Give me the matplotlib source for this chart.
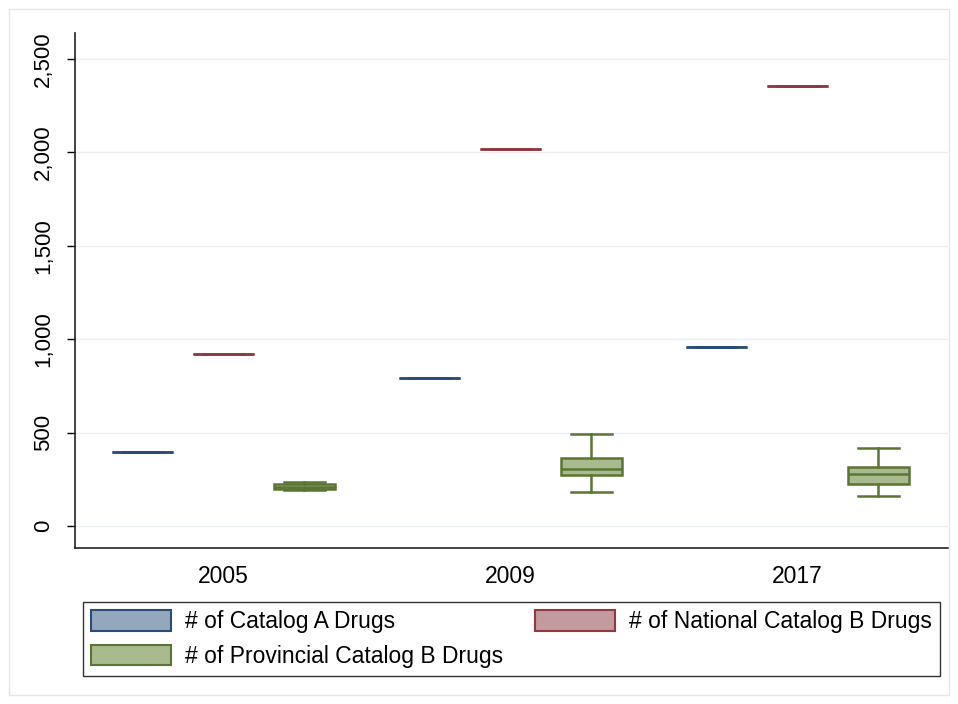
import numpy as np
import matplotlib.pyplot as plt
from matplotlib.patches import Patch, Rectangle
from matplotlib.ticker import FuncFormatter

plt.rcParams['font.family'] = ['Liberation Sans', 'DejaVu Sans']

# Drug counts per catalog year
years = ['2005', '2009', '2017']
catalog_a = [396, 792, 958]
national_b = [922, 2020, 2356]

# Provincial catalog B: distribution across provinces
prov_whislo = [190, 180, 162]
prov_q1 = [200, 273, 223]
prov_med = [210, 307, 276]
prov_q3 = [222, 362, 317]
prov_whishi = [235, 491, 416]

labels = ['# of Catalog A Drugs', '# of National Catalog B Drugs',
          '# of Provincial Catalog B Drugs']
edge_cols = ['#2a4d75', '#8f3a40', '#5a7532']
fill_cols = ['#93a7bd', '#c39a9d', '#a9ba8f']

group_step = 3.54
box_w = 0.75

fig = plt.figure(figsize=(9.58, 7.04), dpi=100)
fig.patches.append(Rectangle((0.009, 0.013), 0.982, 0.974, transform=fig.transFigure,
                             fill=False, edgecolor='#e6e6e6', linewidth=1))
ax = fig.add_axes([0.0783, 0.2216, 0.9113, 0.7314])


def single_stats(v):
    return dict(med=v, q1=v, q3=v, whislo=v, whishi=v, fliers=[])


for k in range(3):
    if k == 0:
        stats = [single_stats(v) for v in catalog_a]
    elif k == 1:
        stats = [single_stats(v) for v in national_b]
    else:
        stats = [dict(med=m, q1=a, q3=b, whislo=lo, whishi=hi, fliers=[])
                 for lo, a, m, b, hi in zip(prov_whislo, prov_q1, prov_med,
                                            prov_q3, prov_whishi)]
    pos = [g * group_step + k for g in range(len(years))]
    ec = edge_cols[k]
    ax.bxp(stats, positions=pos, widths=box_w, patch_artist=True,
           showfliers=False, capwidths=0.5,
           boxprops=dict(facecolor=fill_cols[k], edgecolor=ec, linewidth=1.8),
           medianprops=dict(color=ec, linewidth=1.8),
           whiskerprops=dict(color=ec, linewidth=1.8),
           capprops=dict(color=ec, linewidth=1.8))

ax.set_xlim(-0.83, 2 * group_step + 2 + 0.86)
ax.set_ylim(-118, 2639)
ax.set_xticks([g * group_step + 1 for g in range(len(years))])
ax.set_xticklabels(years, fontsize=16.5)
ax.set_yticks(np.arange(0, 2501, 500))
ax.yaxis.set_major_formatter(FuncFormatter(lambda v, p: f'{int(v):,}'))
ax.tick_params(axis='x', length=0, pad=12)
ax.tick_params(axis='y', length=6, width=1, labelsize=16, pad=9,
               labelrotation=90)
for lab in ax.get_yticklabels():
    lab.set_verticalalignment('center')

ax.grid(axis='y', color='#e8eef1', linewidth=1)
ax.set_axisbelow(True)
for side in ['top', 'right']:
    ax.spines[side].set_visible(False)
for side in ['left', 'bottom']:
    ax.spines[side].set_color('#222222')
    ax.spines[side].set_linewidth(1.2)

handles = [Patch(facecolor=fill_cols[i], edgecolor=edge_cols[i], linewidth=1.5,
                 label=labels[i]) for i in (0, 2, 1)]
leg = fig.legend(handles=handles, ncol=2, loc='lower left',
                 bbox_to_anchor=(0.0866, 0.0398, 0.8946, 0.112), mode='expand',
                 fontsize=16.5, handlelength=3.5, handleheight=1.0,
                 handletextpad=0.6, labelspacing=0.5, borderaxespad=0,
                 fancybox=False, framealpha=1, edgecolor='#333333',
                 borderpad=0.35, columnspacing=0.8)
leg.get_frame().set_linewidth(1)

fig.savefig('out.png', dpi=100)
